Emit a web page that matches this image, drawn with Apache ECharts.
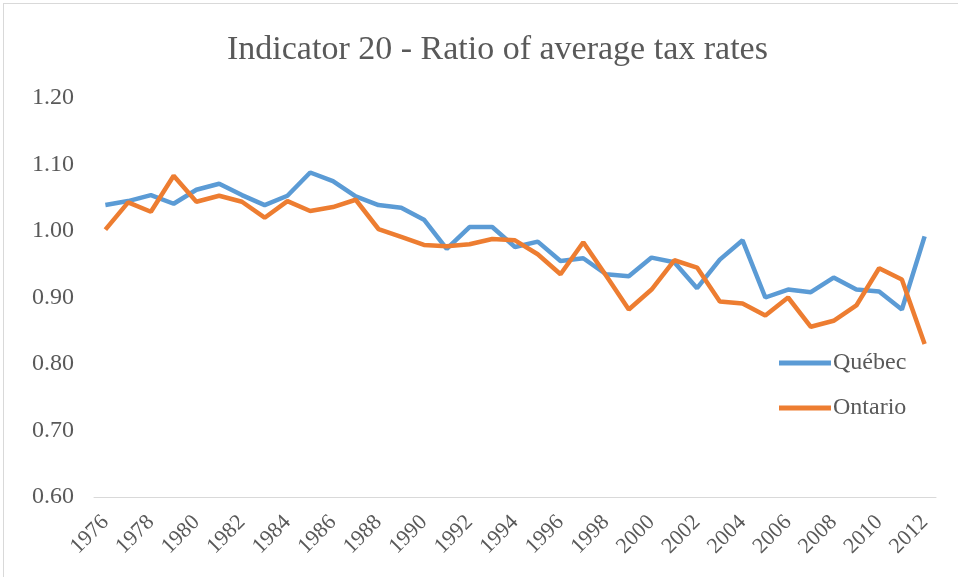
<!DOCTYPE html>
<html>
<head>
<meta charset="utf-8">
<script src="https://cdn.jsdelivr.net/npm/echarts@6/dist/echarts.min.js"></script>
<style>
  html, body { margin: 0; padding: 0; background: #fff; }
  #chart { position: absolute; left: 3px; top: 3px; width: 954px; height: 573px; border-left: 1px solid #d9d9d9; border-top: 1px solid #d9d9d9; }
</style>
</head>
<body>
<div id="chart"></div>
<script>
// years on the x axis
const years = [];
for (let y = 1976; y <= 2012; y++) years.push(String(y));

// values
const quebec = [1.039, 1.045, 1.054, 1.041, 1.062, 1.071, 1.054, 1.039, 1.053, 1.088,
  1.075, 1.052, 1.039, 1.035, 1.017, 0.973, 1.006, 1.006, 0.976, 0.984,
  0.955, 0.959, 0.935, 0.932, 0.960, 0.953, 0.914, 0.957, 0.986, 0.900,
  0.912, 0.908, 0.930, 0.912, 0.909, 0.882, 0.992];
const ontario = [1.002, 1.043, 1.029, 1.083, 1.044, 1.053, 1.044, 1.020, 1.045, 1.030,
  1.036, 1.047, 1.003, 0.991, 0.979, 0.977, 0.980, 0.988, 0.986, 0.965,
  0.935, 0.983, 0.933, 0.882, 0.912, 0.956, 0.945, 0.894, 0.891, 0.873,
  0.900, 0.856, 0.865, 0.888, 0.944, 0.927, 0.830];

const font = 'Liberation Serif';
const grey = '#595959';

const chart = echarts.init(document.getElementById('chart'));
chart.setOption({
  animation: false,
  title: {
    text: 'Indicator 20 - Ratio of average tax rates',
    left: 218,
    top: 24,
    textStyle: { fontFamily: font, fontSize: 34, fontWeight: 'normal', color: grey }
  },
  legend: {
    orient: 'vertical',
    left: 770,
    top: 342,
    itemWidth: 52,
    itemHeight: 5,
    itemGap: 21,
    icon: 'rect',
    textStyle: { fontFamily: font, fontSize: 24, lineHeight: 24, color: grey, padding: [0, 0, 0, -3] },
    data: ['Québec', 'Ontario']
  },
  grid: { left: 90, right: 22, top: 94, bottom: 80 },
  xAxis: {
    type: 'category',
    data: years,
    boundaryGap: true,
    axisLine: { lineStyle: { color: '#d9d9d9', width: 1 } },
    axisTick: { show: false },
    axisLabel: { interval: 1, rotate: 45, fontFamily: font, fontSize: 22, color: grey, margin: 22 }
  },
  yAxis: {
    type: 'value',
    min: 0.6,
    max: 1.2,
    interval: 0.1,
    splitLine: { show: false },
    axisLabel: { formatter: v => v.toFixed(2), fontFamily: font, fontSize: 24, color: grey, margin: 20 }
  },
  series: [
    { name: 'Québec', type: 'line', data: quebec, symbol: 'none',
      lineStyle: { width: 4.5, color: '#5B9BD5' }, itemStyle: { color: '#5B9BD5' } },
    { name: 'Ontario', type: 'line', data: ontario, symbol: 'none',
      lineStyle: { width: 4.5, color: '#ED7D31' }, itemStyle: { color: '#ED7D31' } }
  ]
});
</script>
</body>
</html>
